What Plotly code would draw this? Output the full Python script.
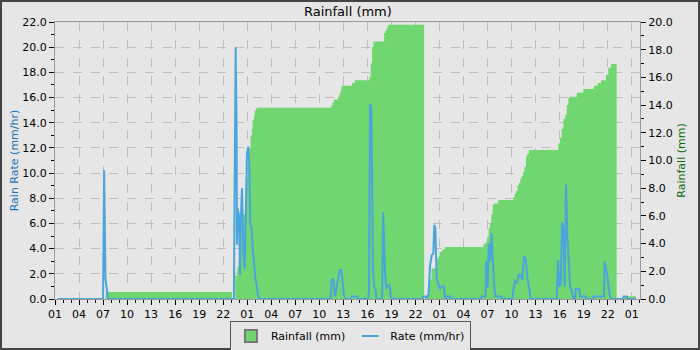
import plotly.graph_objects as go

# ---------------- data ----------------
rain_times = [
    "2024-05-01 01:20", "2024-05-01 07:20", "2024-05-01 23:05", "2024-05-01 23:30",
    "2024-05-01 23:45", "2024-05-01 23:55", "2024-05-02 00:05", "2024-05-02 00:15",
    "2024-05-02 00:25", "2024-05-02 00:45", "2024-05-02 00:55", "2024-05-02 01:05",
    "2024-05-02 01:15", "2024-05-02 01:25", "2024-05-02 01:35", "2024-05-02 01:40",
    "2024-05-02 01:50", "2024-05-02 01:55", "2024-05-02 02:05", "2024-05-02 02:10",
    "2024-05-02 11:30", "2024-05-02 11:40", "2024-05-02 11:50", "2024-05-02 12:20",
    "2024-05-02 12:30", "2024-05-02 12:37", "2024-05-02 12:45", "2024-05-02 14:05",
    "2024-05-02 14:25", "2024-05-02 16:15", "2024-05-02 16:25", "2024-05-02 16:35",
    "2024-05-02 16:45", "2024-05-02 18:05", "2024-05-02 18:15", "2024-05-02 18:25",
    "2024-05-02 18:35", "2024-05-02 23:05", "2024-05-02 23:10", "2024-05-02 23:35",
    "2024-05-02 23:47", "2024-05-03 00:00", "2024-05-03 00:38", "2024-05-03 00:50",
    "2024-05-03 01:00", "2024-05-03 01:15", "2024-05-03 01:28", "2024-05-03 01:40",
    "2024-05-03 06:28", "2024-05-03 06:45", "2024-05-03 06:58", "2024-05-03 07:08",
    "2024-05-03 07:18", "2024-05-03 07:28", "2024-05-03 07:38", "2024-05-03 07:48",
    "2024-05-03 08:20", "2024-05-03 10:13", "2024-05-03 10:23", "2024-05-03 10:33",
    "2024-05-03 10:45", "2024-05-03 10:55", "2024-05-03 11:05", "2024-05-03 11:17",
    "2024-05-03 11:27", "2024-05-03 11:37", "2024-05-03 11:48", "2024-05-03 11:58",
    "2024-05-03 12:11", "2024-05-03 15:50", "2024-05-03 16:03", "2024-05-03 16:15",
    "2024-05-03 16:28", "2024-05-03 16:43", "2024-05-03 16:53", "2024-05-03 17:05",
    "2024-05-03 17:13", "2024-05-03 18:08", "2024-05-03 18:58", "2024-05-03 20:17",
    "2024-05-03 20:45", "2024-05-03 21:10", "2024-05-03 21:47", "2024-05-03 22:05",
    "2024-05-03 22:25", "2024-05-03 23:07", "2024-05-04 00:00", "2024-05-04 01:32",
]
rain_mm = [
    0.0, 0.5, 0.0, 1.7,
    2.3, 2.8, 4.5, 5.6,
    6.1, 7.0, 8.8, 10.0,
    10.9, 11.8, 12.3, 12.9,
    13.2, 13.6, 13.7, 13.8,
    14.0, 14.2, 14.4, 14.6,
    14.8, 15.0, 15.4, 15.6,
    15.8, 16.05, 17.0, 18.2,
    18.6, 19.2, 19.4, 19.6,
    19.8, 0.0, 0.2, 0.65,
    1.4, 2.2, 2.9, 3.05,
    3.4, 3.5, 3.6, 3.75,
    3.95, 4.1, 4.5, 5.1,
    5.5, 6.1, 6.8, 6.9,
    7.15, 7.35, 7.6, 7.8,
    8.2, 8.4, 8.7, 8.9,
    9.2, 9.55, 10.3, 10.5,
    10.76, 11.24, 11.65, 12.3,
    13.0, 13.3, 14.0, 14.5,
    14.6, 14.9, 15.16, 15.4,
    15.6, 15.8, 16.2, 16.7,
    16.97, 0.0, 0.2, 0.2,
]

rate_times = [
    "2024-05-01 01:20", "2024-05-01 07:00", "2024-05-01 07:08", "2024-05-01 07:18",
    "2024-05-01 07:28", "2024-05-01 07:38", "2024-05-01 23:20", "2024-05-01 23:26",
    "2024-05-01 23:33", "2024-05-01 23:40", "2024-05-01 23:43", "2024-05-01 23:48",
    "2024-05-01 23:58", "2024-05-02 00:06", "2024-05-02 00:11", "2024-05-02 00:21",
    "2024-05-02 00:31", "2024-05-02 00:41", "2024-05-02 00:48", "2024-05-02 00:58",
    "2024-05-02 01:08", "2024-05-02 01:16", "2024-05-02 01:23", "2024-05-02 01:33",
    "2024-05-02 01:41", "2024-05-02 01:51", "2024-05-02 02:01", "2024-05-02 02:11",
    "2024-05-02 02:21", "2024-05-02 02:31", "2024-05-02 11:25", "2024-05-02 11:32",
    "2024-05-02 11:45", "2024-05-02 11:57", "2024-05-02 12:08", "2024-05-02 12:20",
    "2024-05-02 12:33", "2024-05-02 12:45", "2024-05-02 12:55", "2024-05-02 13:05",
    "2024-05-02 13:15", "2024-05-02 13:57", "2024-05-02 14:02", "2024-05-02 14:45",
    "2024-05-02 14:50", "2024-05-02 16:05", "2024-05-02 16:12", "2024-05-02 16:20",
    "2024-05-02 16:30", "2024-05-02 16:37", "2024-05-02 16:42", "2024-05-02 16:50",
    "2024-05-02 17:00", "2024-05-02 17:08", "2024-05-02 17:50", "2024-05-02 17:58",
    "2024-05-02 18:05", "2024-05-02 18:13", "2024-05-02 18:22", "2024-05-02 18:30",
    "2024-05-02 18:45", "2024-05-02 18:50", "2024-05-02 18:57", "2024-05-02 22:55",
    "2024-05-02 22:59", "2024-05-02 23:19", "2024-05-02 23:29", "2024-05-02 23:39",
    "2024-05-02 23:49", "2024-05-03 00:02", "2024-05-03 00:14", "2024-05-03 00:21",
    "2024-05-03 00:29", "2024-05-03 00:39", "2024-05-03 00:51", "2024-05-03 01:04",
    "2024-05-03 01:17", "2024-05-03 01:34", "2024-05-03 01:41", "2024-05-03 01:53",
    "2024-05-03 01:55", "2024-05-03 02:20", "2024-05-03 02:25", "2024-05-03 06:10",
    "2024-05-03 06:15", "2024-05-03 06:45", "2024-05-03 06:50", "2024-05-03 07:00",
    "2024-05-03 07:10", "2024-05-03 07:20", "2024-05-03 07:30", "2024-05-03 07:40",
    "2024-05-03 07:50", "2024-05-03 08:00", "2024-05-03 08:45", "2024-05-03 08:50",
    "2024-05-03 10:05", "2024-05-03 10:13", "2024-05-03 10:25", "2024-05-03 10:40",
    "2024-05-03 10:55", "2024-05-03 11:10", "2024-05-03 11:20", "2024-05-03 11:33",
    "2024-05-03 11:45", "2024-05-03 11:55", "2024-05-03 12:00", "2024-05-03 12:10",
    "2024-05-03 12:17", "2024-05-03 12:23", "2024-05-03 15:38", "2024-05-03 15:48",
    "2024-05-03 15:58", "2024-05-03 16:08", "2024-05-03 16:18", "2024-05-03 16:28",
    "2024-05-03 16:38", "2024-05-03 16:48", "2024-05-03 16:58", "2024-05-03 17:08",
    "2024-05-03 17:18", "2024-05-03 17:28", "2024-05-03 17:38", "2024-05-03 17:45",
    "2024-05-03 17:55", "2024-05-03 18:00", "2024-05-03 18:28", "2024-05-03 18:33",
    "2024-05-03 19:17", "2024-05-03 19:22", "2024-05-03 20:08", "2024-05-03 20:12",
    "2024-05-03 21:32", "2024-05-03 21:37", "2024-05-03 21:47", "2024-05-03 21:57",
    "2024-05-03 22:07", "2024-05-03 22:17", "2024-05-03 22:30", "2024-05-03 23:55",
    "2024-05-03 23:58", "2024-05-04 00:22", "2024-05-04 00:27", "2024-05-04 01:32",
]
rate_mmhr = [
    0, 0, 10.2, 1.6,
    0.8, 0, 0, 14.3,
    20.0, 13.9, 4.3, 7.2,
    6.7, 1.9, 6.1, 8.8,
    3.8, 2.4, 7.5, 11.6,
    12.1, 10.5, 5.9, 5.6,
    4.0, 2.4, 1.6, 1.1,
    0.3, 0, 0, 1.5,
    1.6, 0.2, 0.9, 1.3,
    2.3, 2.3, 1.0, 0.3,
    0, 0, 0.2, 0.2,
    0, 0, 0.6, 15.5,
    15.0, 6.8, 2.3, 1.0,
    0.8, 0, 0, 6.9,
    3.8, 1.9, 0.8, 1.1,
    1.1, 0.8, 0, 0,
    0.2, 0.2, 0.1, 0.5,
    2.6, 3.5, 3.6, 5.9,
    5.6, 1.6, 1.2, 0.8,
    1.0, 1.0, 0, 0,
    0.2, 0.2, 0, 0,
    0.2, 0.2, 3.0, 0.9,
    4.4, 3.0, 5.2, 3.0,
    0.9, 0.2, 0.2, 0,
    0, 0.7, 1.4, 1.3,
    1.9, 1.9, 1.5, 3.4,
    3.2, 2.2, 1.5, 1.0,
    0.2, 0, 0, 3.1,
    1.0, 1.2, 6.1, 5.6,
    1.0, 9.1, 4.8, 3.0,
    1.0, 0.7, 0.2, 0,
    0, 0.8, 0.8, 0.2,
    0.2, 0, 0, 0.2,
    0.2, 3.0, 2.4, 1.9,
    0.9, 0.2, 0, 0,
    0.2, 0.2, 0, 0,
]

x_range = ["2024-05-01 01:00", "2024-05-04 02:02"]
rate_ticks = [0, 2, 4, 6, 8, 10, 12, 14, 16, 18, 20, 22]
rain_ticks = [0, 2, 4, 6, 8, 10, 12, 14, 16, 18, 20]

# ---------------- figure ----------------
FONT = "DejaVu Sans"
BG = "#e6e6e6"
GREEN = "#6fd670"
BLUE = "#4aa5dc"

fig = go.Figure()
fig.add_trace(go.Scatter(
    x=rain_times, y=rain_mm, name="Rainfall (mm)", yaxis="y",
    mode="lines", line=dict(shape="hv", width=0, color=GREEN),
    fill="tozeroy", fillcolor=GREEN, showlegend=False,
))
fig.add_trace(go.Scatter(
    x=rate_times, y=rate_mmhr, name="Rate (mm/hr)", yaxis="y2",
    mode="lines", line=dict(width=2, color=BLUE), showlegend=False,
))
# legend-only entries (square swatch and short dash, as in the original)
fig.add_trace(go.Scatter(
    x=[None], y=[None], name="Rainfall (mm)", mode="markers",
    marker=dict(symbol="square", size=10, color=GREEN,
                line=dict(color="#777777", width=1)),
))
fig.add_trace(go.Scatter(
    x=[None], y=[None], name="Rate (mm/hr)", mode="markers",
    marker=dict(symbol="line-ew-open", size=10, color=BLUE,
                line=dict(color=BLUE, width=3)),
))

axis_common = dict(
    ticks="outside", ticklen=5, tickcolor="#000", tickwidth=1,
    showline=True, linecolor="#999999", linewidth=1,
    tickfont=dict(family=FONT, size=11, color="#000"),
    zeroline=False,
)

fig.update_layout(
    width=700, height=350,
    margin=dict(l=55, r=60, t=22, b=51, autoexpand=False),
    paper_bgcolor=BG, plot_bgcolor=BG,
    font=dict(family=FONT, size=11, color="#000"),
    title=dict(text="Rainfall (mm)", x=0.497, xanchor="center",
               y=1 - 11 / 350, yanchor="middle",
               font=dict(family=FONT, size=13, color="#000")),
    xaxis=dict(
        type="date", range=x_range, tickformat="%H",
        tick0="2024-05-01 01:00", dtick=3 * 3600000,
        showgrid=True, gridcolor="#bdbdbd", griddash="dash", gridwidth=1,
        mirror=True,
        minor=dict(dtick=3600000, ticks="outside", ticklen=3,
                   tickcolor="#000", showgrid=False),
        **axis_common,
    ),
    yaxis=dict(
        side="right", range=[0, 20], tickvals=rain_ticks,
        tickformat=".1f", showgrid=False,
        minor=dict(dtick=1, ticks="outside", ticklen=3, tickcolor="#000"),
        title=dict(text="Rainfall (mm)", standoff=5,
                   font=dict(family=FONT, size=11, color="#0a6b0a")),
        **axis_common,
    ),
    yaxis2=dict(
        overlaying="y", side="left", range=[0, 22], tickvals=rate_ticks,
        tickformat=".1f", showgrid=True, gridcolor="#bdbdbd",
        griddash="dash", gridwidth=1,
        minor=dict(dtick=1, ticks="outside", ticklen=3, tickcolor="#000",
                   showgrid=False),
        title=dict(text="Rain Rate (mm/hr)", standoff=1,
                   font=dict(family=FONT, size=11, color="#2471b5")),
        **axis_common,
    ),
    legend=dict(
        orientation="h", x=0.505, xanchor="center", y=-0.078, yanchor="top",
        bgcolor=BG, bordercolor="#555555", borderwidth=1,
        font=dict(family=FONT, size=11, color="#000"),
        itemwidth=30, tracegroupgap=0, itemsizing="constant",
    ),
    showlegend=True,
    shapes=[dict(
        type="rect", xref="paper", yref="paper",
        x0=(1 - 55) / 585, x1=(699 - 55) / 585,
        y0=(299 - 349) / 277, y1=(299 - 1) / 277,
        line=dict(color="#444444", width=2), fillcolor="rgba(0,0,0,0)",
        layer="above",
    )],
)

fig.write_html("out.html")
